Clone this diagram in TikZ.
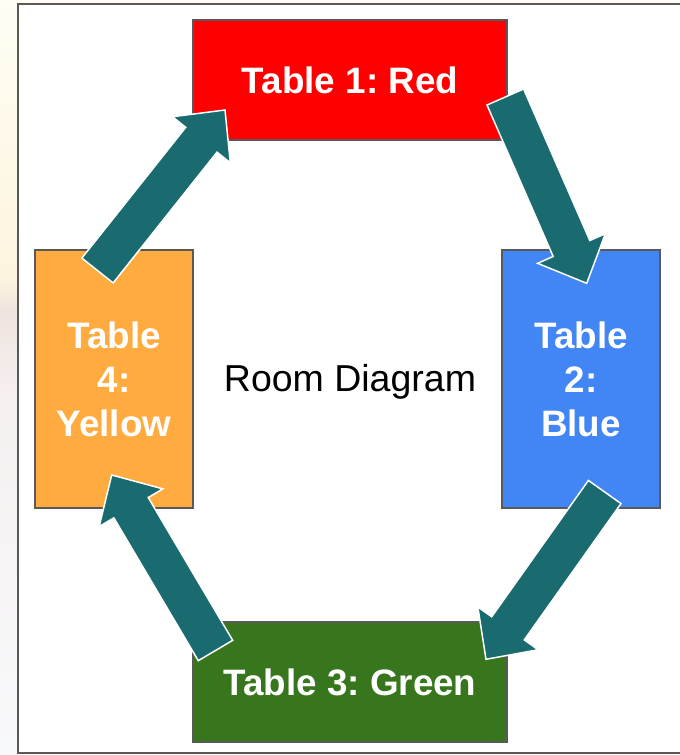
\documentclass[tikz,border=0pt]{standalone}
\usepackage{fontspec}
\setmainfont{Liberation Sans}
\usetikzlibrary{calc}
\frenchspacing
\definecolor{tred}{RGB}{255,0,0}
\definecolor{tblue}{RGB}{66,133,244}
\definecolor{tgreen}{RGB}{56,118,29}
\definecolor{tyellow}{RGB}{255,171,64}
\definecolor{arrowteal}{RGB}{26,107,112}
\definecolor{edgegray}{RGB}{89,89,89}
\definecolor{creamA}{RGB}{255,253,244}
\definecolor{creamB}{RGB}{252,244,222}
\definecolor{duskA}{RGB}{238,228,222}
\definecolor{duskB}{RGB}{246,240,240}
\definecolor{paleC}{RGB}{248,249,251}
\newcommand\blockarrow[2]{%
  \coordinate (#1-#2-h) at ($(#2)!38pt!(#1)$);
  \draw[flow] ($(#1)!20pt!90:(#2)$) -- ($(#1-#2-h)!20pt!-90:(#1)$) -- ($(#1-#2-h)!37pt!-90:(#1)$) -- (#2)
    -- ($(#1-#2-h)!37pt!90:(#1)$) -- ($(#1-#2-h)!20pt!90:(#1)$) -- ($(#1)!20pt!-90:(#2)$) -- cycle;}
\begin{document}
\begin{tikzpicture}[x=1pt,y=-1pt,
  tablebox/.style={draw=edgegray, line width=1.5pt, text=white,
    font=\fontsize{36.8}{44}\selectfont\bfseries, align=center, inner sep=0pt},
  flow/.style={fill=arrowteal, draw=white, line width=1.5pt, line join=miter}]
\useasboundingbox (0,0) rectangle (680,755);
% background
\fill[creamA] (0,0) rectangle (680,755);
\shade[top color=creamA, bottom color=creamB] (0,0) rectangle (18,280);
\shade[top color=creamB, bottom color=duskA] (0,280) rectangle (18,310);
\shade[top color=duskA, bottom color=duskB] (0,310) rectangle (18,400);
\shade[top color=duskB, bottom color=paleC] (0,400) rectangle (18,755);
% panel
\draw[edgegray, line width=2pt, fill=white] (17.5,4) rectangle (700,753);
% tables
\node[tablebox, fill=tred, minimum width=314pt, minimum height=120pt] (red) at (350,80) {Table 1: Red};
\node[tablebox, fill=tblue, minimum width=158pt, minimum height=258pt] (blue) at (581,379) {Table\\2:\\Blue};
\node[tablebox, fill=tgreen, minimum width=314pt, minimum height=120pt] (green) at (350,682) {Table 3: Green};
\node[tablebox, fill=tyellow, minimum width=158pt, minimum height=258pt] (yellow) at (114,379) {Table\\4:\\Yellow};
\node[font=\fontsize{37.5}{44}\selectfont, inner sep=0pt] (room) at (350,382) {Room Diagram};
% arrow end points
\coordinate (a1s) at (97.5,270.5);
\coordinate (a1e) at (225,110);
\coordinate (a2s) at (505.3,97);
\coordinate (a2e) at (586.7,283.3);
\coordinate (a3s) at (604.7,492);
\coordinate (a3e) at (486,659.3);
\coordinate (a4s) at (215.5,650.5);
\coordinate (a4e) at (111.7,475);
\blockarrow{a1s}{a1e}
\blockarrow{a2s}{a2e}
\blockarrow{a3s}{a3e}
\blockarrow{a4s}{a4e}
\end{tikzpicture}
\end{document}
